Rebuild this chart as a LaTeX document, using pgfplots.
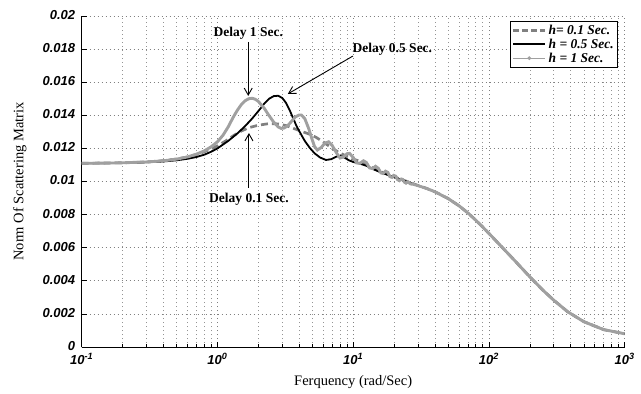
\documentclass[border=0pt]{standalone}
\usepackage{fontspec}
\setmainfont{Liberation Serif}
\newfontfamily\arialf{Liberation Sans}
\usepackage{pgfplots}
\pgfplotsset{compat=1.18}
\usepackage{pgfplotstable}
\usetikzlibrary{arrows.meta,calc}
\definecolor{dgray}{HTML}{808080}
\definecolor{lgray}{HTML}{A0A0A0}

\pgfplotstableread{
x y
0.1 0.01110
0.2 0.01113
0.3 0.01118
0.4 0.01126
0.5 0.01136
0.6 0.01148
0.7 0.01163
0.8 0.01180
0.9 0.01198
1.0 0.01215
1.15 0.01245
1.33 0.01280
1.5 0.01305
1.7 0.01325
2.0 0.01340
2.4 0.01350
2.8 0.01348
3.2 0.01338
3.6 0.01322
4.2 0.01302
4.8 0.01285
5.3 0.01268
6.0 0.01240
7.0 0.01200
8.0 0.01172
9.0 0.01152
10 0.01135
11 0.01125
12 0.01108
13 0.01095
15 0.01068
17 0.01050
20 0.01028
25 0.01000
30 0.00976
35 0.00957
40 0.00938
50 0.00897
60 0.00854
70 0.00810
80 0.00766
90 0.00725
100 0.00686
120 0.00618
150 0.00534
200 0.00424
250 0.00343
300 0.00283
380 0.00213
500 0.00153
700 0.00105
1000 0.00080
}\tabA

\pgfplotstableread{
x y
0.1 0.01110
0.2 0.01112
0.3 0.01116
0.4 0.01121
0.5 0.01128
0.6 0.01137
0.7 0.01148
0.8 0.01162
0.9 0.01180
1.0 0.01200
1.2 0.01245
1.4 0.01290
1.6 0.01335
1.8 0.01380
2.0 0.01425
2.2 0.01468
2.4 0.01500
2.6 0.01516
2.8 0.01518
3.0 0.01505
3.2 0.01475
3.4 0.01432
3.6 0.01385
3.8 0.01340
4.0 0.01305
4.4 0.01245
4.8 0.01202
5.2 0.01170
5.7 0.01145
6.3 0.01130
6.9 0.01135
7.5 0.01150
8.0 0.01155
8.6 0.01145
9.3 0.01128
10 0.01118
11 0.01110
12.5 0.01095
14 0.01075
16 0.01055
18 0.01040
20 0.01027
25 0.00998
30 0.00975
35 0.00957
40 0.00938
50 0.00897
60 0.00854
70 0.00810
80 0.00766
90 0.00725
100 0.00686
120 0.00618
150 0.00534
200 0.00424
250 0.00343
300 0.00283
380 0.00213
500 0.00153
700 0.00105
1000 0.00080
}\tabB

\pgfplotstableread{
x y
0.1 0.01110
0.15 0.01111
0.2 0.01113
0.3 0.01118
0.4 0.01125
0.5 0.01135
0.6 0.01148
0.7 0.01165
0.8 0.01185
0.9 0.01210
1.0 0.01240
1.1 0.01280
1.2 0.01330
1.3 0.01385
1.4 0.01430
1.5 0.01465
1.6 0.01488
1.7 0.01500
1.8 0.01503
1.9 0.01497
2.0 0.01484
2.2 0.01445
2.4 0.01398
2.6 0.01358
2.8 0.01330
2.95 0.01321
3.1 0.01323
3.3 0.01338
3.5 0.01362
3.75 0.01390
4.0 0.01402
4.15 0.01402
4.4 0.01380
4.7 0.01320
5.0 0.01250
5.2 0.01210
5.45 0.01190
5.8 0.01205
6.2 0.01232
6.6 0.01240
7.0 0.01218
7.5 0.01175
8.0 0.01142
8.5 0.01148
9.0 0.01168
9.4 0.01170
10.0 0.01145
10.6 0.01112
11.2 0.01110
11.9 0.01125
12.5 0.01115
13.2 0.01082
13.9 0.01078
14.6 0.01092
15.3 0.01080
16.0 0.01052
16.6 0.01048
17.3 0.01062
18.0 0.01055
18.6 0.01030
19.3 0.01025
19.9 0.01037
20.6 0.01032
21.2 0.01012
21.9 0.01005
22.6 0.01015
23.2 0.01012
23.9 0.00995
24.5 0.00990
25.2 0.00998
26.5 0.00985
27.8 0.00983
30 0.00975
35 0.00957
40 0.00938
50 0.00897
60 0.00854
70 0.00810
80 0.00766
90 0.00725
100 0.00686
120 0.00618
150 0.00534
200 0.00424
250 0.00343
300 0.00283
380 0.00213
500 0.00153
700 0.00105
1000 0.00080
}\tabC

\begin{document}
\begin{tikzpicture}
\begin{axis}[
  scale only axis, width=543pt, height=331pt,
  xmode=log, xmin=0.1, xmax=1000, ymin=0, ymax=0.02,
  scaled y ticks=false,
  axis x line*=bottom, axis y line*=left,
  axis line style={line width=0.8pt},
  xtick={0.1,1,10,100,1000},
  xticklabels={10\textsuperscript{-1},10\textsuperscript{0},10\textsuperscript{1},10\textsuperscript{2},10\textsuperscript{3}},
  minor xtick={0.2,0.3,0.4,0.5,0.6,0.7,0.8,0.9,2,3,4,5,6,7,8,9,20,30,40,50,60,70,80,90,200,300,400,500,600,700,800,900},
  ytick={0,0.002,0.004,0.006,0.008,0.01,0.012,0.014,0.016,0.018,0.02},
  yticklabels={0,0.002,0.004,0.006,0.008,0.01,0.012,0.014,0.016,0.018,0.02},
  minor y tick num=0,
  tick label style={font=\arialf\bfseries\itshape\fontsize{13}{15}\selectfont},
  yticklabel style={xshift=-3pt, yshift=1pt},
  xticklabel style={yshift=-3pt},
  tick align=inside,
  major tick length=5pt, minor tick length=3pt,
  tick style={black, line width=0.6pt},
  grid=both,
  major grid style={black!50, line width=0.6pt, dash pattern=on 1pt off 3pt},
  minor grid style={black!42, line width=0.6pt, dash pattern=on 1pt off 3pt},
  every axis x label/.style={at={(axis description cs:0.5,-0.106)},anchor=center},
  every axis y label/.style={at={(axis description cs:-0.114,0.5)},rotate=90,anchor=center},
  label style={font=\fontsize{14.5}{16}\selectfont},
  xlabel={Ferquency (rad/Sec)},
  ylabel={Norm Of Scattering Matrix},
  legend image code/.code={\draw[mark repeat=2,mark phase=2,#1] plot coordinates {(0pt,0pt)(16pt,0pt)(32pt,0pt)};},
  legend style={at={(rel axis cs:1,1)}, anchor=north east, xshift=-7pt, yshift=-5pt,
    draw=black, line width=1pt, font=\bfseries\itshape\fontsize{13.5}{14}\selectfont,
    inner sep=1.5pt, row sep=-1pt, cells={anchor=west}},
]
\addplot[dgray, line width=2.7pt, dash pattern=on 7pt off 4pt, forget plot] table[x=x,y=y] {\tabA};
\addplot[black, line width=1.8pt, forget plot] table[x=x,y=y] {\tabB};
\addplot[lgray, line width=2.9pt, forget plot] table[x=x,y=y] {\tabC};

\addlegendimage{dgray, line width=2.6pt, dash pattern=on 6pt off 3pt}
\addlegendentry{h= 0.1 Sec.}
\addlegendimage{black, line width=2pt}
\addlegendentry{h = 0.5 Sec.}
\addlegendimage{lgray, line width=1.3pt, mark=*, mark size=1.1pt}
\addlegendentry{h = 1 Sec.}

\draw[-{Straight Barb[length=7pt,width=8pt]}, line width=0.9pt] (axis cs:1.686,0.01843) -- (axis cs:1.686,0.01517);
\node[font=\bfseries\fontsize{13.5}{15}\selectfont] at (axis cs:1.686,0.01897) {Delay 1 Sec.};
\draw[-{Straight Barb[length=7pt,width=8pt]}, line width=0.9pt] (axis cs:9.95,0.01758) -- (axis cs:3.30,0.01529);
\node[font=\bfseries\fontsize{13.5}{15}\selectfont] at (axis cs:19.44,0.01801) {Delay 0.5 Sec.};
\draw[-{Straight Barb[length=7pt,width=8pt]}, line width=0.9pt] (axis cs:1.706,0.00961) -- (axis cs:1.706,0.01293);
\node[font=\bfseries\fontsize{13.5}{15}\selectfont] at (axis cs:1.706,0.00894) {Delay 0.1 Sec.};

\coordinate (bl) at (rel axis cs:0,0);
\coordinate (tr) at (rel axis cs:1,1);
\end{axis}
\pgfresetboundingbox
\path ($(bl)+(-81.7pt,-46pt)$) rectangle ($(tr)+(16.3pt,16pt)$);
\end{tikzpicture}
\end{document}
